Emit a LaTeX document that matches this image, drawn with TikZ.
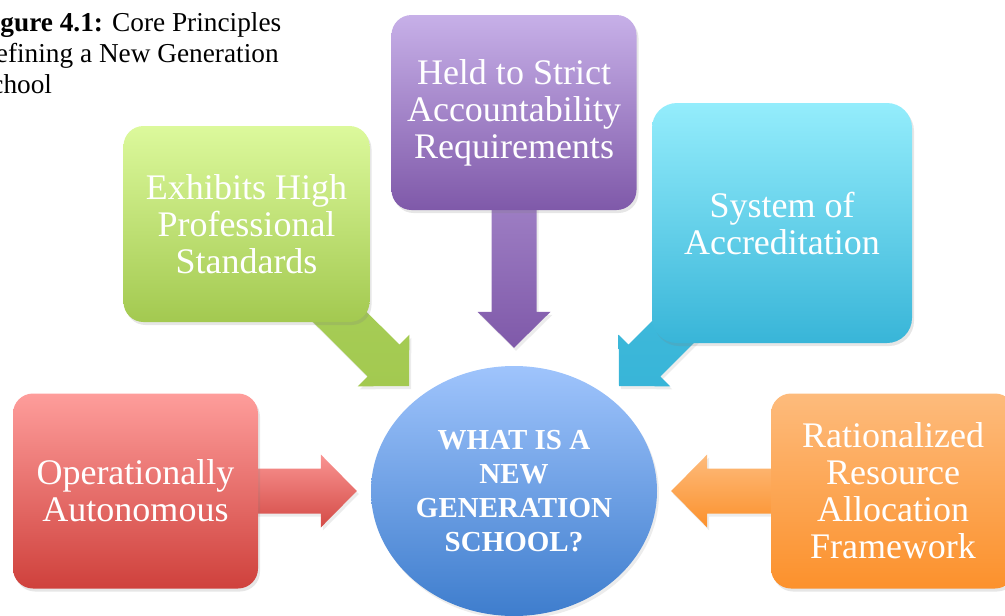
\documentclass[tikz,border=0pt]{standalone}
\usepackage{fontspec}
\setmainfont{Liberation Serif}
\usetikzlibrary{calc,shapes.geometric,shadows,backgrounds}

\definecolor{grnTop}{HTML}{DCF99C}
\definecolor{grnBot}{HTML}{A3C950}
\definecolor{grnArr}{HTML}{A9D15C}
\definecolor{purTop}{HTML}{C7B0E8}
\definecolor{purBot}{HTML}{7F59A9}
\definecolor{cyaTop}{HTML}{94EDFC}
\definecolor{cyaBot}{HTML}{38B5D8}
\definecolor{redTop}{HTML}{FE9D9B}
\definecolor{redBot}{HTML}{CF413C}
\definecolor{ornTop}{HTML}{FDBB7C}
\definecolor{ornBot}{HTML}{FC912C}
\definecolor{bluTop}{HTML}{9FC4FC}
\definecolor{bluBot}{HTML}{3E7DCD}

\tikzset{
  box/.style={rectangle, rounded corners=20pt, inner sep=0pt, text=white, align=center,
    font=\fontsize{36}{37}\selectfont,
    drop shadow={shadow xshift=2pt, shadow yshift=-3pt, opacity=0.2}},
  hubnode/.style={ellipse, inner sep=0pt, text=white, align=center,
    font=\bfseries\fontsize{29}{34}\selectfont,
    drop shadow={shadow xshift=2pt, shadow yshift=-3pt, opacity=0.15}},
  blk/.style={drop shadow={shadow xshift=2pt, shadow yshift=-3pt, opacity=0.15}},
}

% block arrow: style, start, tip, direction x, direction y
\newcommand{\blockarrow}[5]{%
  \path[blk,#1] ($(#2)+({-22.5*(#5)},{22.5*(#4)})$)
    -- ($(#3)+({-36*(#4)-22.5*(#5)},{-36*(#5)+22.5*(#4)})$)
    -- ($(#3)+({-36*(#4)-36.5*(#5)},{-36*(#5)+36.5*(#4)})$)
    -- (#3)
    -- ($(#3)+({-36*(#4)+36.5*(#5)},{-36*(#5)-36.5*(#4)})$)
    -- ($(#3)+({-36*(#4)+22.5*(#5)},{-36*(#5)-22.5*(#4)})$)
    -- ($(#2)+({22.5*(#5)},{-22.5*(#4)})$) -- cycle;}

\begin{document}
\begin{tikzpicture}[x=1pt, y=-1pt]

\useasboundingbox (0,0) rectangle (1005,616);
\clip (0,0) rectangle (1005,616);

\node[anchor=north west, align=left, inner sep=0pt, font=\fontsize{27.3}{31}\selectfont]
  (caption) at (-24,12) {\textbf{Figure 4.1:} Core Principles\\Defining a New Generation\\School};

% -------- Boxes -----------
\node[box, minimum width=246pt, minimum height=196pt, top color=grnTop, bottom color=grnBot]
  (standards) at (246.5,224) {Exhibits High\\Professional\\Standards};
\node[box, minimum width=245pt, minimum height=195pt, top color=purTop, bottom color=purBot]
  (account) at (514,112.5) {Held to Strict\\Accountability\\Requirements};
\node[box, rounded corners=25pt, minimum width=260pt, minimum height=240pt, top color=cyaTop, bottom color=cyaBot]
  (accred) at (782,223) {System of\\Accreditation};
\node[box, minimum width=245pt, minimum height=195pt, top color=redTop, bottom color=redBot]
  (autonomous) at (135.5,491) {Operationally\\Autonomous};
\node[box, minimum width=244pt, minimum height=195pt, top color=ornTop, bottom color=ornBot]
  (resource) at (893,491) {Rationalized\\Resource\\Allocation\\Framework};

\node[hubnode, minimum width=286pt, minimum height=250pt, top color=bluTop, bottom color=bluBot]
  (hub) at (514,491) {WHAT IS A\\NEW\\GENERATION\\SCHOOL?};

\coordinate (tipS) at ($(hub.center)+(-105,-105)$);
\coordinate (tipA) at ($(hub.north)+(0,-18)$);
\coordinate (tipC) at ($(hub.center)+(105,-105)$);
\coordinate (tipO) at ($(hub.west)+(-14,0)$);
\coordinate (tipR) at ($(hub.east)+(14,0)$);

% -------- Arrows -----------
\begin{scope}[on background layer]
\blockarrow{top color=grnArr, bottom color=grnBot}{standards.center}{tipS}{0.7071}{0.7071}
\blockarrow{top color=purTop!70!purBot, bottom color=purBot}{account.center}{tipA}{0}{1}
\blockarrow{top color=cyaBot!85!cyaTop, bottom color=cyaBot}{accred.center}{tipC}{-0.7071}{0.7071}
\blockarrow{top color=redTop!90!redBot, bottom color=redBot!90!redTop}{autonomous.center}{tipO}{1}{0}
\blockarrow{top color=ornTop, bottom color=ornBot}{resource.center}{tipR}{-1}{0}
\end{scope}

\end{tikzpicture}
\end{document}
